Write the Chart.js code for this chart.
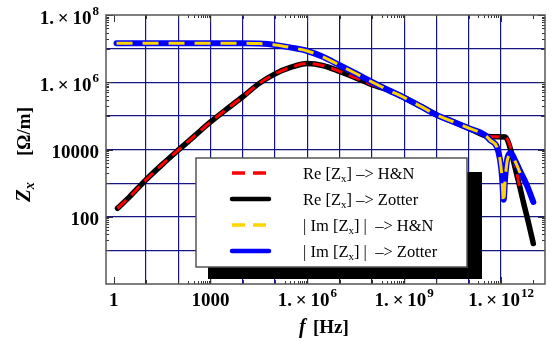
<!DOCTYPE html>
<html>
<head>
<meta charset="utf-8">
<script src="https://cdn.jsdelivr.net/npm/chart.js@4"></script>
<style>
  html, body { margin: 0; padding: 0; background: #fff; }
  #wrap { width: 554px; height: 342px; }
</style>
</head>
<body>
<div id="wrap"><canvas id="myChart" width="554" height="342"></canvas></div>
<script>
// Re[Zx] curves, frequency in Hz
const freqRe = [1.32, 3.16, 10, 31.6, 100, 316, 1e3, 3.16e3, 1e4, 3.16e4, 1e5, 3.16e5,
  1e6, 3.16e6, 1e7, 3.16e7, 1e8, 3.16e8, 1e9, 3.16e9, 1e10, 3.16e10, 1e11, 3.16e11,
  3.98e11, 7.94e11, 1.35e12, 1.7e12, 2.0e12, 2.4e12, 3.16e12, 3.9e12, 4.9e12, 7.1e12, 1e13];
const reZotter = [178, 398, 1250, 3550, 9550, 2.5e4, 6.6e4, 1.58e5, 3.7e5, 9.1e5, 1.78e6, 2.8e6,
  3.6e6, 3.1e6, 2.1e6, 1.35e6, 8.5e5, 5.9e5, 3.5e5, 1.95e5, 1.07e5, 6.8e4, 4.3e4, 2.6e4,
  2.45e4, 2.4e4, 2.35e4, 1.6e4, 9.5e3, 4.8e3, 1.6e3, 710, 275, 66, 16];
const reHN = [178, 398, 1250, 3550, 9550, 2.5e4, 6.6e4, 1.58e5, 3.7e5, 9.1e5, 1.78e6, 2.8e6,
  3.6e6, 3.1e6, 2.1e6, 1.35e6, 8.5e5, 5.9e5, 3.5e5, 1.95e5, 1.07e5, 6.8e4, 4.3e4, 2.6e4,
  2.45e4, 2.4e4, 2.35e4, 1.75e4, 1.1e4, 5.6e3, 1.8e3, 600, null, null, null];

// |Im[Zx]| curves
const freqIm = [1.23, 10, 100, 1e3, 1e4, 3.16e4, 1e5, 3.16e5, 1e6, 3.16e6, 1e7, 3.16e7,
  1e8, 3.16e8, 1e9, 3.16e9, 1e10, 3.16e10, 1e11, 3.16e11, 4.57e11, 7.4e11, 9.3e11,
  1.07e12, 1.2e12, 1.35e12, 1.58e12, 2.0e12, 2.8e12, 3.9e12, 6.3e12, 1e13];
const imZotter = [1.45e7, 1.45e7, 1.45e7, 1.45e7, 1.45e7, 1.41e7, 1.29e7, 1.07e7, 8.5e6, 5.6e6, 3.2e6, 1.82e6,
  1.02e6, 5.9e5, 3.5e5, 1.95e5, 1.07e5, 6.8e4, 4.3e4, 2.7e4, 1.9e4, 1.2e4, 5.0e3,
  1.6e3, 320, 1.6e3, 5.6e3, 7.9e3, 4.5e3, 2.3e3, 870, 275];
const imHN = [1.45e7, 1.45e7, 1.45e7, 1.45e7, 1.45e7, 1.41e7, 1.29e7, 1.07e7, 8.5e6, 5.6e6, 3.2e6, 1.82e6,
  1.02e6, 5.9e5, 3.5e5, 1.95e5, 1.07e5, 6.8e4, 4.3e4, 2.7e4, 1.9e4, 1.2e4, 5.0e3,
  1.5e3, 250, 1.4e3, 5.0e3, 7.0e3, 4.2e3, 2.0e3, null, null];

// axis labels
const xTicks = [1, 1e3, 1e6, 1e9, 1e12];
const xTickLabels = ['1', '1000', '1.\u2009×\u200910^6', '1.\u2009×\u200910^9', '1.\u2009×\u200910^12'];
const yTicks = [100, 1e4, 1e6, 1e8];
const yTickLabels = ['100', '10000', '1.\u2009×\u200910^6', '1.\u2009×\u200910^8'];
const legendText = [
  ['Re [Z', 'x', '] –> H&N'],
  ['Re [Z', 'x', '] –> Zotter'],
  ['| Im [Z', 'x', '] |  –> H&N'],
  ['| Im [Z', 'x', '] |  –> Zotter']
];
const legendColors = ['#ff0000', '#000000', '#ffd500', '#0000ff'];
const legendDash = [[13, 8], [], [13, 8], []];

const SERIF = '"Liberation Serif", "Times New Roman", serif';

function decades(lo, hi) {
  const out = [];
  for (let e = lo; e <= hi; e++) out.push(Math.pow(10, e));
  return out;
}

function mkSet(freq, vals, color, width, dash, order) {
  return {
    data: freq.map((f, i) => ({ x: f, y: vals[i] })),
    borderColor: color,
    borderWidth: width,
    borderDash: dash,
    borderCapStyle: dash.length ? 'butt' : 'round',
    borderJoinStyle: 'round',
    pointRadius: 0,
    fill: false,
    cubicInterpolationMode: 'monotone',
    order: order
  };
}

function gridCol(v, lo, hi) {
  const e = Math.round(Math.log10(v));
  return (e >= lo && e <= hi) ? 'rgb(22,22,130)' : 'rgba(0,0,0,0)';
}

function drawSup(ctx, label, x, y, align) {
  const parts = label.split('^');
  const big = 'bold 19px ' + SERIF, small = 'bold 13px ' + SERIF;
  ctx.font = big;
  const w1 = ctx.measureText(parts[0]).width;
  let w2 = 0;
  if (parts[1]) { ctx.font = small; w2 = ctx.measureText(parts[1]).width + 1; }
  const x0 = align === 'center' ? x - (w1 + w2) / 2 : x - w1 - w2;
  ctx.textAlign = 'left';
  ctx.textBaseline = 'alphabetic';
  ctx.font = big;
  ctx.fillText(parts[0], x0, y);
  if (parts[1]) { ctx.font = small; ctx.fillText(parts[1], x0 + w1 + 1, y - 9); }
}

function tickMarks(majorExps, lo, hi) {
  const m = [];
  for (let e = lo; e <= hi; e++) m.push({ v: Math.pow(10, e), len: majorExps.includes(e) ? 7 : 4 });
  majorExps.forEach(e => {
    if (e - 1 >= lo) for (let k = 2; k <= 9; k++) m.push({ v: k * Math.pow(10, e - 1), len: 3 });
  });
  return m;
}

const decor = {
  id: 'decor',
  afterDraw(chart) {
    const ctx = chart.ctx, a = chart.chartArea;
    const xs = chart.scales.x, ys = chart.scales.y;
    ctx.save();

    // small tick marks on all four sides
    ctx.strokeStyle = '#333';
    ctx.lineWidth = 1;
    ctx.beginPath();
    tickMarks([0, 3, 6, 9, 12], 0, 13).forEach(t => {
      const px = Math.round(xs.getPixelForValue(t.v)) + 0.5;
      if (px < a.left || px > a.right) return;
      ctx.moveTo(px, a.bottom); ctx.lineTo(px, a.bottom - t.len);
      ctx.moveTo(px, a.top); ctx.lineTo(px, a.top + t.len);
    });
    tickMarks([2, 4, 6, 8], 0, 8).forEach(t => {
      const py = Math.round(ys.getPixelForValue(t.v)) + 0.5;
      if (py < a.top || py > a.bottom) return;
      ctx.moveTo(a.left, py); ctx.lineTo(a.left + t.len, py);
      ctx.moveTo(a.right, py); ctx.lineTo(a.right - t.len, py);
    });
    ctx.stroke();

    // frame
    ctx.strokeStyle = '#555';
    ctx.lineWidth = 1.5;
    ctx.strokeRect(a.left, a.top, a.right - a.left, a.bottom - a.top);

    // tick labels
    ctx.fillStyle = '#000';
    xTicks.forEach((v, i) => drawSup(ctx, xTickLabels[i], xs.getPixelForValue(v), 306, 'center'));
    yTicks.forEach((v, i) => {
      const lab = yTickLabels[i];
      drawSup(ctx, lab, 99, ys.getPixelForValue(v) + (lab.includes('^') ? 9 : 8), 'right');
    });

    // x title
    ctx.textBaseline = 'alphabetic';
    ctx.textAlign = 'left';
    ctx.font = 'bold italic 20px ' + SERIF;
    ctx.fillText('f', 299, 333);
    ctx.font = 'bold 19px ' + SERIF;
    ctx.fillText('[Hz]', 313, 333);

    // y title (rotated)
    ctx.save();
    ctx.translate(30, 202);
    ctx.rotate(-Math.PI / 2);
    ctx.textAlign = 'left';
    ctx.textBaseline = 'alphabetic';
    ctx.font = 'bold italic 21px ' + SERIF;
    ctx.fillText('Z', 0, 0);
    let w = ctx.measureText('Z').width;
    ctx.font = 'bold italic 14px ' + SERIF;
    ctx.fillText('x', w, 4);
    ctx.font = 'bold 19px ' + SERIF;
    ctx.textAlign = 'right';
    ctx.fillText('[\u03a9/m]', 95, 0);
    ctx.restore();

    // legend with drop shadow
    ctx.fillStyle = '#000';
    ctx.fillRect(208, 172, 274, 107);
    ctx.fillStyle = '#fff';
    ctx.fillRect(196, 158, 271, 109);
    ctx.strokeStyle = '#555';
    ctx.lineWidth = 1.5;
    ctx.strokeRect(196, 158, 271, 109);
    legendText.forEach((t, i) => {
      const y = 173 + i * 26;
      ctx.beginPath();
      ctx.strokeStyle = legendColors[i];
      ctx.lineWidth = legendDash[i].length ? 3.5 : 4.5;
      ctx.lineCap = legendDash[i].length ? 'butt' : 'round';
      ctx.setLineDash(legendDash[i]);
      ctx.moveTo(232, y); ctx.lineTo(269, y);
      ctx.stroke();
      ctx.setLineDash([]);
      ctx.fillStyle = '#000';
      ctx.textAlign = 'left';
      ctx.textBaseline = 'alphabetic';
      let tx = 303;
      ctx.font = '16.5px ' + SERIF;
      ctx.fillText(t[0], tx, y + 6);
      tx += ctx.measureText(t[0]).width;
      ctx.font = '11px ' + SERIF;
      ctx.fillText(t[1], tx, y + 9);
      tx += ctx.measureText(t[1]).width;
      ctx.font = '16.5px ' + SERIF;
      ctx.fillText(t[2], tx, y + 6);
    });

    ctx.restore();
  }
};

const myChart = new Chart(document.getElementById('myChart'), {
  type: 'line',
  data: {
    datasets: [
      mkSet(freqRe, reHN, '#ff0000', 3, [12, 7], 2),
      mkSet(freqRe, reZotter, '#000000', 5.5, [], 3),
      mkSet(freqIm, imHN, '#ffd500', 3, [16, 10], 0),
      mkSet(freqIm, imZotter, '#0000ff', 6, [], 1)
    ]
  },
  options: {
    responsive: false,
    animation: false,
    events: [],
    layout: { padding: { left: 106, top: 15, right: 9, bottom: 58 } },
    plugins: { legend: { display: false }, tooltip: { enabled: false } },
    scales: {
      x: {
        type: 'logarithmic',
        min: 0.58,
        max: 2.3e13,
        afterBuildTicks: s => { s.ticks = decades(0, 13).map(v => ({ value: v })); },
        ticks: { display: false },
        grid: { color: c => gridCol(c.tick.value, 1, 12), lineWidth: 1.2, drawTicks: false },
        border: { display: false }
      },
      y: {
        type: 'logarithmic',
        min: 1,
        max: 1e8,
        afterBuildTicks: s => { s.ticks = decades(0, 8).map(v => ({ value: v })); },
        ticks: { display: false },
        grid: { color: c => gridCol(c.tick.value, 1, 7), lineWidth: 1.2, drawTicks: false },
        border: { display: false }
      }
    }
  },
  plugins: [decor]
});
</script>
</body>
</html>
